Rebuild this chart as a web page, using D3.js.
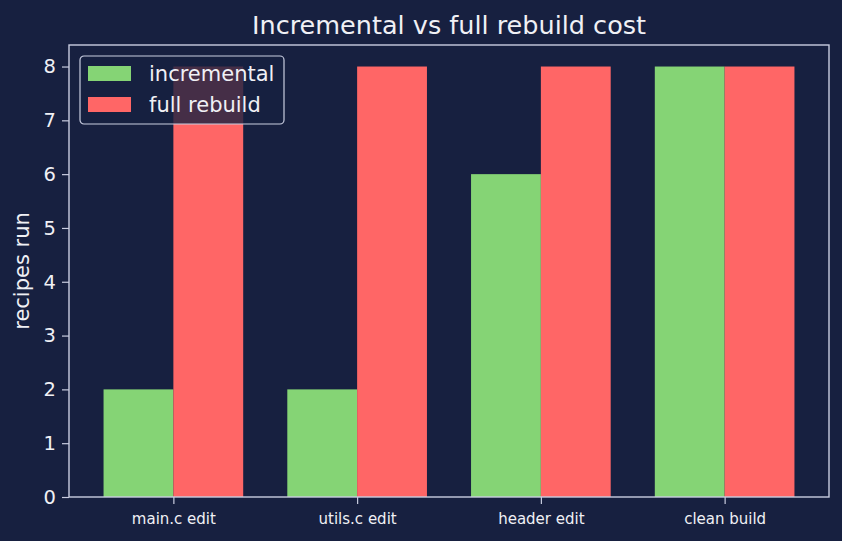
<!DOCTYPE html>
<html>
<head>
<meta charset="utf-8">
<script src="https://cdn.jsdelivr.net/npm/d3@7"></script>
<style>
  body { margin: 0; background: #172040; }
  text { font-family: "DejaVu Sans", sans-serif; }
</style>
</head>
<body>
<script>
var categories = ['main.c edit', 'utils.c edit', 'header edit', 'clean build'];
var incremental = [2, 2, 6, 8];
var fullRebuild = [8, 8, 8, 8];
var yTicks = [0, 1, 2, 3, 4, 5, 6, 7, 8];
var seriesNames = ['incremental', 'full rebuild'];

var width = 842, height = 541;
var margin = { left: 69, right: 13, top: 45, bottom: 44 };
var bg = '#172040';
var fg = '#c9cde0';
var txt = '#f0f0f5';
var colors = ['#85d475', '#ff6666'];
var barW = 0.38;

var svg = d3.select('body').append('svg')
  .attr('width', width)
  .attr('height', height);

svg.append('rect').attr('width', width).attr('height', height).attr('fill', bg);

var x = d3.scaleLinear()
  .domain([-barW - 0.188, categories.length - 1 + barW + 0.188])
  .range([margin.left, width - margin.right]);
var y = d3.scaleLinear()
  .domain([0, 8.4])
  .range([height - margin.bottom, margin.top]);

var series = [incremental, fullRebuild];
series.forEach(function (vals, s) {
  svg.append('g').selectAll('rect').data(vals).enter().append('rect')
    .attr('x', function (d, i) { return x(i + (s === 0 ? -barW : 0)); })
    .attr('width', x(barW) - x(0))
    .attr('y', function (d) { return y(d); })
    .attr('height', function (d) { return y(0) - y(d); })
    .attr('fill', colors[s]);
});

// axes
var xAxis = svg.append('g')
  .attr('transform', 'translate(0,' + y(0) + ')')
  .call(d3.axisBottom(x).tickValues(d3.range(categories.length))
    .tickFormat(function (d) { return categories[d]; }).tickSize(7).tickPadding(9));

var yAxis = svg.append('g')
  .attr('transform', 'translate(' + margin.left + ',0)')
  .call(d3.axisLeft(y).tickValues(yTicks).tickSize(7).tickPadding(6));

[xAxis, yAxis].forEach(function (a) {
  a.select('.domain').remove();
  a.selectAll('.tick line').attr('stroke', fg).attr('stroke-width', 1.2);
  a.selectAll('text').attr('fill', txt).attr('font-family', '"DejaVu Sans", sans-serif');
});
xAxis.selectAll('text').attr('font-size', 15);
yAxis.selectAll('text').attr('font-size', 19.5);

// frame
svg.append('rect')
  .attr('x', margin.left).attr('y', margin.top)
  .attr('width', width - margin.left - margin.right)
  .attr('height', height - margin.top - margin.bottom)
  .attr('fill', 'none').attr('stroke', fg).attr('stroke-width', 1.4);

// title
svg.append('text')
  .attr('x', (margin.left + width - margin.right) / 2)
  .attr('y', 34)
  .attr('text-anchor', 'middle')
  .attr('fill', txt)
  .attr('font-size', 25.5)
  .text('Incremental vs full rebuild cost');

// y label
svg.append('text')
  .attr('transform', 'translate(29,' + (margin.top + height - margin.bottom) / 2 + ') rotate(-90)')
  .attr('text-anchor', 'middle')
  .attr('fill', txt)
  .attr('font-size', 21)
  .text('recipes run');

// legend
var lg = svg.append('g').attr('transform', 'translate(80,56)');
lg.append('rect')
  .attr('width', 204).attr('height', 68).attr('rx', 4)
  .attr('fill', bg).attr('fill-opacity', 0.8)
  .attr('stroke', fg).attr('stroke-width', 1.2);
seriesNames.forEach(function (name, i) {
  lg.append('rect')
    .attr('x', 8).attr('y', 10 + i * 31)
    .attr('width', 43).attr('height', 15)
    .attr('fill', colors[i]);
  lg.append('text')
    .attr('x', 69).attr('y', 25 + i * 30.5)
    .attr('fill', txt)
    .attr('font-size', 21)
    .text(name);
});
</script>
</body>
</html>
